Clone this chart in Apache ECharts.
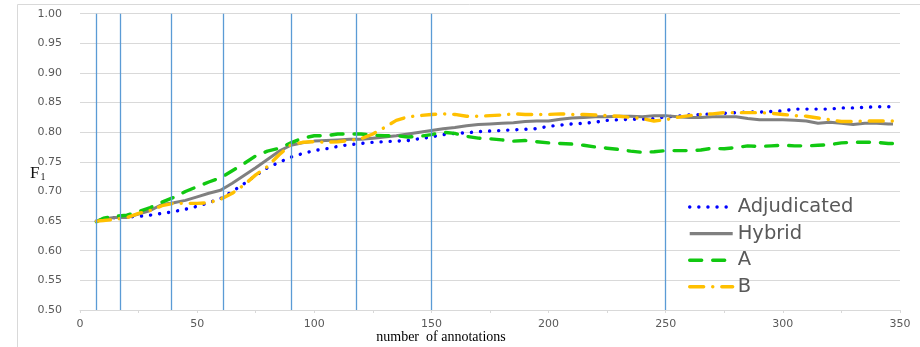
<!DOCTYPE html>
<html>
<head>
<meta charset="utf-8">
<script src="https://cdn.jsdelivr.net/npm/echarts@6/dist/echarts.min.js"></script>
<style>html,body{margin:0;padding:0;background:#fff}#c{width:920px;height:347px}</style>
</head>
<body>
<div id="c"></div>
<script>
const xs = [7,10,15,20,25,30,35,40,45,50,55,60,65,70,75,80,85,90,95,100,105,110,115,120,125,130,135,140,145,150,155,160,165,170,175,180,185,190,195,200,205,210,215,220,225,230,235,240,245,250,255,260,265,270,275,280,285,290,295,300,305,310,315,320,325,330,335,340,345,347];
const adjudicated = [0.650,0.653,0.656,0.657,0.658,0.660,0.663,0.666,0.670,0.675,0.681,0.688,0.700,0.713,0.727,0.740,0.749,0.758,0.764,0.769,0.772,0.776,0.779,0.781,0.783,0.784,0.785,0.786,0.789,0.792,0.796,0.798,0.799,0.801,0.802,0.803,0.804,0.805,0.806,0.810,0.812,0.814,0.815,0.817,0.820,0.821,0.822,0.822,0.823,0.826,0.827,0.829,0.830,0.831,0.832,0.833,0.834,0.834,0.835,0.836,0.839,0.839,0.839,0.839,0.841,0.841,0.842,0.843,0.843,0.843];
const hybrid = [0.650,0.654,0.656,0.656,0.662,0.668,0.678,0.681,0.685,0.691,0.697,0.702,0.714,0.727,0.740,0.754,0.768,0.778,0.782,0.785,0.786,0.787,0.788,0.788,0.790,0.792,0.794,0.797,0.800,0.803,0.806,0.808,0.811,0.813,0.814,0.815,0.816,0.818,0.819,0.819,0.822,0.824,0.825,0.826,0.826,0.827,0.827,0.826,0.828,0.828,0.826,0.825,0.825,0.826,0.826,0.826,0.823,0.821,0.821,0.821,0.820,0.819,0.815,0.817,0.815,0.813,0.815,0.815,0.814,0.814];
const seriesA = [0.649,0.655,0.658,0.660,0.666,0.673,0.682,0.690,0.700,0.708,0.716,0.723,0.735,0.747,0.760,0.768,0.773,0.782,0.790,0.794,0.794,0.797,0.797,0.797,0.795,0.794,0.794,0.792,0.793,0.796,0.800,0.798,0.793,0.790,0.789,0.787,0.785,0.786,0.784,0.782,0.781,0.780,0.778,0.775,0.773,0.771,0.768,0.766,0.767,0.769,0.769,0.769,0.770,0.773,0.772,0.774,0.777,0.776,0.777,0.778,0.777,0.777,0.778,0.779,0.782,0.783,0.783,0.783,0.781,0.781];
const seriesB = [0.650,0.651,0.653,0.656,0.663,0.668,0.676,0.680,0.680,0.680,0.681,0.687,0.697,0.711,0.728,0.742,0.762,0.779,0.783,0.784,0.783,0.784,0.786,0.789,0.797,0.808,0.820,0.826,0.828,0.830,0.831,0.830,0.827,0.827,0.828,0.829,0.831,0.830,0.830,0.830,0.831,0.830,0.830,0.829,0.828,0.827,0.825,0.823,0.819,0.821,0.825,0.828,0.830,0.831,0.833,0.833,0.833,0.833,0.832,0.830,0.828,0.827,0.824,0.821,0.818,0.818,0.819,0.819,0.819,0.819];
const batchMarks = [7,17,39,61,90,118,150,250];
const xTickLabels = [0,50,100,150,200,250,300,350];
const seriesNames = ['Adjudicated','Hybrid','A','B'];

const zip = ys => xs.map((x,i) => [x, ys[i]]);
const chart = echarts.init(document.getElementById('c'));
const base = {type:'line', symbol:'none', showSymbol:false, smooth:false};
chart.setOption({
  animation:false,
  grid:{left:80, right:20, top:13.7, bottom:37},
  legend:{
    orient:'vertical', left:683, top:192,
    itemWidth:43, itemHeight:16, itemGap:6.6,
    itemStyle:{opacity:0},
    lineStyle:{width:3.4},
    textStyle:{fontFamily:'DejaVu Sans', fontSize:19.5, color:'#595959'},
    data:seriesNames
  },
  xAxis:{
    type:'value', min:0, max:350, interval:25,
    axisLine:{show:true, lineStyle:{color:'#d9d9d9'}},
    axisTick:{show:true, length:3, lineStyle:{color:'#d9d9d9'}},
    splitLine:{show:false},
    axisLabel:{fontFamily:'DejaVu Sans', fontSize:11, color:'#595959', margin:9,
      formatter:v => xTickLabels.indexOf(v) >= 0 ? String(v) : ''}
  },
  yAxis:{
    type:'value', min:0.5, max:1.0, interval:0.05,
    axisLine:{show:false}, axisTick:{show:false},
    splitLine:{lineStyle:{color:'#d9d9d9', width:1}},
    axisLabel:{fontFamily:'DejaVu Sans', fontSize:11, color:'#595959', margin:18,
      formatter:v => v.toFixed(2)}
  },
  graphic:[
    {type:'rect', silent:true, shape:{x:17.5, y:4.5, width:920, height:360}, style:{fill:'none', stroke:'#d9d9d9', lineWidth:1}},
    {type:'text', left:30, top:165, style:{text:'{f|F}{s|1}', rich:{f:{fontFamily:'Liberation Serif', fontSize:17, fill:'#111'}, s:{fontFamily:'Liberation Serif', fontSize:10, fill:'#111', padding:[8,0,0,1]}}}},
    {type:'text', x:441, y:337, style:{text:'number  of annotations', fontFamily:'Liberation Serif', fontSize:14, fill:'#000', align:'center', verticalAlign:'middle'}}
  ],
  series:[
    {type:'line', data:[], z:1, silent:true,
      markLine:{silent:true, symbol:'none', label:{show:false}, animation:false,
        lineStyle:{color:'#5B9BD5', width:1.3, type:'solid'},
        data:batchMarks.map(v => ({xAxis:v}))}},
    Object.assign({}, base, {name:seriesNames[0], data:zip(adjudicated), z:3, color:'#0000FF',
      lineStyle:{color:'#0000FF', width:3.4, type:[0.1,9], cap:'round'}}),
    Object.assign({}, base, {name:seriesNames[1], data:zip(hybrid), z:3, color:'#808080',
      lineStyle:{color:'#808080', width:3, type:'solid'}}),
    Object.assign({}, base, {name:seriesNames[2], data:zip(seriesA), z:3, color:'#11C811',
      lineStyle:{color:'#11C811', width:3.4, type:[12,11], cap:'round'}}),
    Object.assign({}, base, {name:seriesNames[3], data:zip(seriesB), z:3, color:'#FFC000',
      lineStyle:{color:'#FFC000', width:3.4, type:[14,9,0.1,9], cap:'round'}})
  ]
});
</script>
</body>
</html>
